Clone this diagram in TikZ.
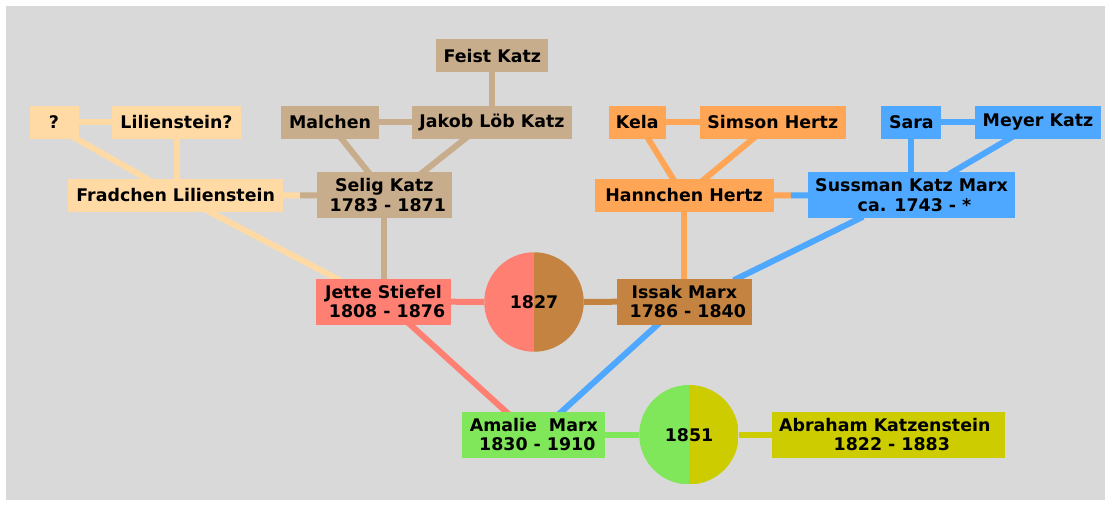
\documentclass[tikz,border=0pt]{standalone}
\usepackage{fontspec}
\setmainfont{DejaVu Sans}
\usetikzlibrary{calc,backgrounds}
\definecolor{peach}{HTML}{FFDAA5}
\definecolor{tan}{HTML}{C8AD8C}
\definecolor{orng}{HTML}{FFA656}
\definecolor{blu}{HTML}{4FA8FF}
\definecolor{salm}{HTML}{FF8073}
\definecolor{brwn}{HTML}{C48341}
\definecolor{grn}{HTML}{80E65A}
\definecolor{olv}{HTML}{CCCC00}
\definecolor{bg}{HTML}{D9D9D9}
\begin{document}
\begin{tikzpicture}[x=1pt,y=-1pt,
  box/.style={rectangle, inner sep=0pt, font=\fontsize{17.4}{19.6}\selectfont\bfseries, align=center, text=black},
  one/.style={box, minimum height=32.7pt},
  two/.style={box, minimum height=46pt},
  marr/.style 2 args={circle, inner sep=0pt, minimum size=99.5pt, font=\fontsize{17.4}{19.6}\selectfont\bfseries, text=black,
    path picture={\fill[#1] (path picture bounding box.south west) rectangle (path picture bounding box.north);
                  \fill[#2] (path picture bounding box.south) rectangle (path picture bounding box.north east);}},
  link/.style={line width=6pt, shorten <=-4pt, shorten >=-4pt},
  half/.style={line width=6pt, shorten <=-4pt},
  plain/.style={line width=6pt, shorten <=-4pt}]
\useasboundingbox (0,0) rectangle (1111,506);
% persons
\node[one, fill=peach, minimum width=49pt] (q) at (54,122.3) {?};
\node[one, fill=peach, minimum width=129pt] (lil) at (176.5,122.3) {Lilienstein?};
\node[one, fill=peach, minimum width=215pt] (fr) at (175.7,195.3) {Fradchen Lilienstein};
\node[one, fill=tan, minimum width=98pt] (mal) at (330,122.3) {Malchen};
\node[one, fill=tan, minimum width=112pt] (fk) at (492.3,55.7) {Feist Katz};
\node[one, fill=tan, minimum width=160pt] (jlk) at (492,122.3) {Jakob Löb Katz};
\node[two, fill=tan, minimum width=135pt] (sel) at (384.3,195.3) {Selig Katz\\\hspace*{7pt}1783 - 1871};
\node[one, fill=orng, minimum width=57.5pt] (kela) at (637.3,122.3) {Kela};
\node[one, fill=orng, minimum width=145.6pt] (sim) at (772.8,122.3) {Simson Hertz};
\node[one, fill=orng, minimum width=179pt] (han) at (684,195.3) {Hannchen Hertz};
\node[one, fill=blu, minimum width=60pt] (sara) at (911.3,122.3) {Sara};
\node[one, fill=blu, minimum width=126pt] (mey) at (1038,122.3) {Meyer Katz};
\node[two, fill=blu, minimum width=207pt] (sus) at (911.5,195.3) {Sussman Katz Marx\\\hspace*{6pt}ca. 1743 - *};
\node[two, fill=salm, minimum width=135pt] (jet) at (383.5,301.7) {Jette Stiefel\\\hspace*{7pt}1808 - 1876};
\node[marr={salm}{brwn}] (m1) at (534,302) {1827};
\node[two, fill=brwn, minimum width=134.7pt] (iss) at (684.3,301.7) {Issak Marx\\\hspace*{7pt}1786 - 1840};
\node[two, fill=grn, minimum width=143pt] (ama) at (533.8,434.7) {Amalie\ \ Marx\\\hspace*{7pt}1830 - 1910};
\node[marr={grn}{olv}] (m2) at (689,434.7) {1851};
\node[two, fill=olv, minimum width=232.7pt] (abr) at (888.3,434.7) {Abraham Katzenstein\hspace*{7pt}\\\hspace*{7pt}1822 - 1883};
% connectors
\begin{scope}[on background layer]
\fill[white] (0,0) rectangle (1111,506);
\fill[bg] (6,6) rectangle (1105,500);
\draw[link, peach] (q.east) -- (lil.west);
\draw[link, peach] ($(q.south east)+(-2,0)$) -- ($(fr.north)+(-29,0)$);
\draw[link, peach] (lil.south) -- (lil.south |- fr.north);
\coordinate (fs) at ($(fr.east)!0.5!(sel.west)$);
\draw[half, peach] (fr.east) -- (fs);
\draw[half, tan] (sel.west) -- (fs);
\draw[link, tan] (mal.east) -- (jlk.west);
\draw[link, tan] (fk.south) -- (fk.south |- jlk.north);
\draw[link, tan] ($(mal.south)+(11.7,0)$) -- ($(sel.north)+(-16,0)$);
\draw[link, tan] ($(jlk.south)+(-27,0)$) -- ($(sel.north)+(38.7,0)$);
\draw[link, peach] ($(fr.south)+(34,0)$) -- ($(jet.north)+(-47,0)$);
\draw[link, tan] (sel.south) -- (sel.south |- jet.north);
\draw[plain, salm] (jet.east) -- (m1.west);
\draw[plain, brwn] (iss.west) -- (m1.east);
\draw[link, orng] (han.south) -- (han.south |- iss.north);
\draw[link, blu] ($(sus.south)+(-52,0)$) -- ($(iss.north)+(53,0)$);
\draw[link, orng] ($(kela.south)+(11,0)$) -- ($(han.north)+(-11,0)$);
\draw[link, orng] ($(sim.south)+(-20,0)$) -- ($(han.north)+(21,0)$);
\draw[link, orng] (kela.east) -- (sim.west);
\coordinate (hs) at ($(han.east)!0.5!(sus.west)$);
\draw[half, orng] (han.east) -- (hs);
\draw[half, blu] (sus.west) -- (hs);
\draw[link, blu] (sara.east) -- (mey.west);
\draw[link, blu] (sara.south) -- (sara.south |- sus.north);
\draw[link, blu] ($(mey.south)+(-29,0)$) -- ($(sus.north)+(41,0)$);
\draw[link, salm] ($(jet.south)+(27,0)$) -- ($(ama.north)+(-28,0)$);
\draw[link, blu] ($(iss.south)+(-27,0)$) -- ($(ama.north)+(28,0)$);
\draw[plain, grn] (ama.east) -- (m2.west);
\draw[plain, olv] (abr.west) -- (m2.east);
\end{scope}
\end{tikzpicture}
\end{document}
